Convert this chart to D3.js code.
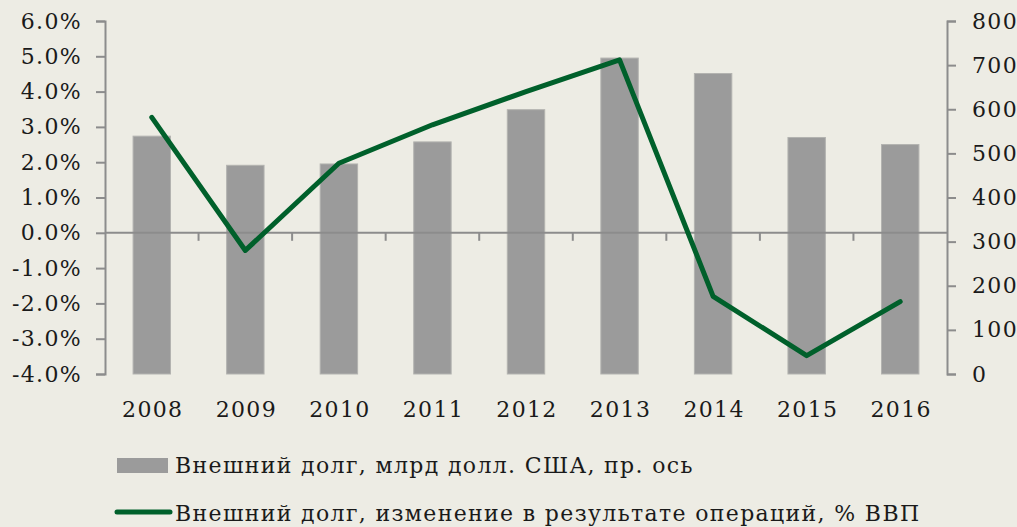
<!DOCTYPE html>
<html>
<head>
<meta charset="utf-8">
<script src="https://cdn.jsdelivr.net/npm/d3@7"></script>
<style>
  body { margin: 0; background: #edece4; }
  text { font-family: "DejaVu Serif", serif; fill: #1a1a1a; letter-spacing: 1.35px; }
</style>
</head>
<body>
<script>
// years on the x axis
var years = ["2008", "2009", "2010", "2011", "2012", "2013", "2014", "2015", "2016"];
// external debt, bln USD (right axis)
var debt = [539, 473, 476, 526, 599, 716, 681, 536, 520];
// change in external debt due to transactions, % GDP (left axis)
var debtChange = [3.27, -0.5, 1.97, 3.06, 4.0, 4.9, -1.8, -3.48, -1.95];
var leftTicks = [-4, -3, -2, -1, 0, 1, 2, 3, 4, 5, 6];
var rightTicks = [0, 100, 200, 300, 400, 500, 600, 700, 800];

var w = 1017;
var h = 527;
var mLeft = 105, mRight = 947, mTop = 21, mBottom = 374;

var svg = d3.select("body")
  .append("svg")
  .attr("width", w)
  .attr("height", h);

svg.append("rect")
  .attr("width", w)
  .attr("height", h)
  .attr("fill", "#edece4");

var x = d3.scaleBand()
  .domain(years)
  .range([mLeft, mRight])
  .paddingInner(0.6)
  .paddingOuter(0.3);

var xPos = d3.scaleBand()
  .domain(years)
  .range([mLeft, mRight]);

var yL = d3.scaleLinear().domain([-4, 6]).range([mBottom, mTop]);
var yR = d3.scaleLinear().domain([0, 800]).range([mBottom, mTop]);

// bars
svg.selectAll("rect.bar")
  .data(debt)
  .enter()
  .append("rect")
  .attr("class", "bar")
  .attr("x", function(d, i) { return x(years[i]); })
  .attr("y", function(d) { return yR(d); })
  .attr("width", x.bandwidth())
  .attr("height", function(d) { return yR(0) - yR(d); })
  .attr("fill", "#9b9b9b")
  .attr("stroke", "#b3b3b0")
  .attr("stroke-width", 1);

// left axis
var axL = svg.append("g")
  .attr("transform", "translate(" + mLeft + ",0)")
  .call(d3.axisLeft(yL).tickValues(leftTicks).tickSize(9).tickPadding(14)
    .tickFormat(function(d) { return d3.format(".1f")(d).replace("−", "-") + "%"; }));

// right axis
var axR = svg.append("g")
  .attr("transform", "translate(" + mRight + ",0)")
  .call(d3.axisRight(yR).tickValues(rightTicks).tickSize(9).tickPadding(16));

[axL, axR].forEach(function(ax) {
  ax.select(".domain").attr("stroke", "#8c8c8c").attr("stroke-width", 2);
  ax.selectAll(".tick line").attr("stroke", "#8c8c8c").attr("stroke-width", 2);
  ax.selectAll("text").attr("font-size", "22px").attr("fill", "#1a1a1a")
    .attr("font-family", "DejaVu Serif, serif");
});

// x axis at zero
var axX = svg.append("g")
  .attr("transform", "translate(0," + yL(0) + ")");
axX.append("line")
  .attr("x1", mLeft).attr("x2", mRight)
  .attr("stroke", "#8c8c8c").attr("stroke-width", 2);
axX.selectAll("line.tk")
  .data(years.slice(1))
  .enter()
  .append("line")
  .attr("class", "tk")
  .attr("x1", function(d) { return xPos(d); })
  .attr("x2", function(d) { return xPos(d); })
  .attr("y1", 0).attr("y2", 8)
  .attr("stroke", "#8c8c8c").attr("stroke-width", 2);

// year labels
svg.selectAll("text.year")
  .data(years)
  .enter()
  .append("text")
  .attr("class", "year")
  .attr("x", function(d) { return xPos(d) + xPos.bandwidth() / 2 + 1; })
  .attr("y", 417)
  .attr("text-anchor", "middle")
  .attr("font-size", "22px")
  .text(function(d) { return d; });

// line
var line = d3.line()
  .x(function(d, i) { return xPos(years[i]) + xPos.bandwidth() / 2; })
  .y(function(d) { return yL(d); });

svg.append("path")
  .datum(debtChange)
  .attr("d", line)
  .attr("fill", "none")
  .attr("stroke", "#00602b")
  .attr("stroke-width", 5)
  .attr("stroke-linecap", "round")
  .attr("stroke-linejoin", "round");

// legend
svg.append("rect")
  .attr("x", 117).attr("y", 458)
  .attr("width", 51).attr("height", 15)
  .attr("fill", "#9b9b9b");
svg.append("text")
  .attr("x", 175).attr("y", 473)
  .attr("font-size", "22px")
  .text("Внешний долг, млрд долл. США, пр. ось");

svg.append("line")
  .attr("x1", 117).attr("x2", 170)
  .attr("y1", 512).attr("y2", 512)
  .attr("stroke", "#00602b")
  .attr("stroke-width", 5)
  .attr("stroke-linecap", "round");
svg.append("text")
  .attr("x", 175).attr("y", 521)
  .attr("font-size", "22px")
  .text("Внешний долг, изменение в результате операций, % ВВП");
</script>
</body>
</html>
